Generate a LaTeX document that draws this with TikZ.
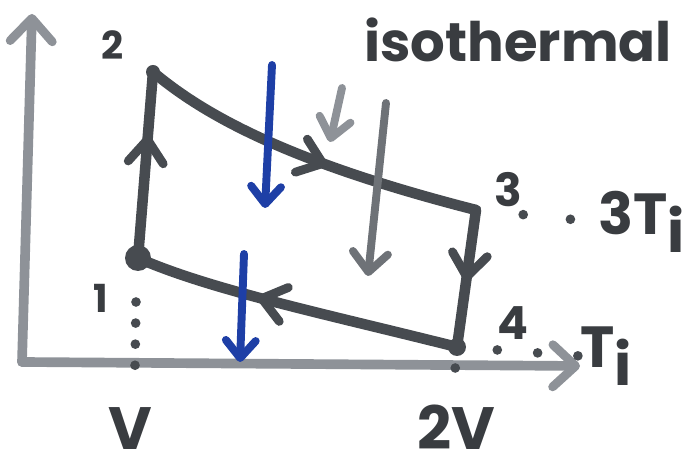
\documentclass[tikz,border=0pt]{standalone}
\usepackage{fontspec}
\setmainfont{Poppins}
\usetikzlibrary{arrows.meta,decorations.markings}
\definecolor{marker}{HTML}{474B50}
\definecolor{markerlight}{HTML}{8E9298}
\definecolor{markermid}{HTML}{6E7277}
\definecolor{pen}{HTML}{1E3FA6}
\tikzset{
  stroke/.style={draw=marker,line width=6pt,line cap=round,line join=round},
  barb/.style={-{Straight Barb[length=13pt,width=24pt,line width=5pt,round]}},
  midarrow/.style={postaction={decorate},decoration={markings,
    mark=at position #1 with {\arrow{Straight Barb[length=13pt,width=20pt,line width=5pt,round]}}}},
  dots/.style={draw=marker,line width=5.5pt,line cap=round,dash pattern=on 0pt off #1},
  hand/.style={text=marker!80!black,inner sep=0pt,font=\bfseries\fontsize{#1}{#1}\selectfont},
  blueline/.style={draw=pen,line width=4.5pt,line cap=round,
    -{Straight Barb[length=10pt,width=17pt,line width=4.5pt,round]}},
}
\begin{document}
\begin{tikzpicture}[x=0.02cm,y=-0.02cm]
  \useasboundingbox (0,0) rectangle (698,475);
  % corners of the cycle
  \coordinate (p1) at (138,258);
  \coordinate (p2) at (153,72);
  \coordinate (p3) at (476,210);
  \coordinate (p4) at (457,347);
  \coordinate (origin) at (22,362);
  \coordinate (ytip) at (32,14);
  \coordinate (xtip) at (580,366);
  \coordinate (d1) at (136,302);
  \coordinate (v1) at (135,366);
  \coordinate (v2) at (455,371);
  % axes
  \draw[stroke,draw=markerlight,line width=5.5pt,barb] (origin) -- (ytip);
  \draw[stroke,draw=markerlight,line width=5.5pt,barb] (origin) -- (xtip);
  % cycle
  \draw[stroke,midarrow=0.66] (p1) -- (p2);
  \draw[stroke,midarrow=0.56] (p2) .. controls (210,120) and (300,165) .. (p3);
  \draw[stroke,midarrow=0.52] (p3) -- (p4);
  \draw[stroke,midarrow=0.62] (p4) .. controls (330,315) and (210,290) .. (p1);
  \fill[marker] (p1) circle[radius=13];
  \fill[marker] (p4) circle[radius=9];
  \fill[marker] (p2) circle[radius=7];
  % labels
  \node[hand=22] (n2) at (113,45) {2};
  \node[hand=22] (n1) at (101,298) {1};
  \node[hand=26] (n3) at (508,190) {3};
  \node[hand=26] (n4) at (513,323) {4};
  \node[hand=33,anchor=west] (hot) at (598,222) {3T\raisebox{-0.3em}{i}};
  \node[hand=33,anchor=west] (cold) at (580,356) {T\raisebox{-0.3em}{i}};
  \node[hand=34,anchor=base] (vol1) at (130,450) {V};
  \node[hand=34,anchor=base] (vol2) at (456,450) {2V};
  \node[hand=31] (iso) at (518,40) {isothermal};
  % dotted guides
  \draw[dots=12pt] (d1) -- (v1);
  \draw[dots=12pt] (p4) -- (v2);
  \draw[dots=23pt] (p4) -- (cold.west);
  \draw[dots=27pt] (p3) -- (hot.west);
  % heat arrows
  \coordinate (g1) at (386,103);
  \coordinate (g2) at (368,276);
  \coordinate (g3) at (342,88);
  \coordinate (g4) at (330,142);
  \draw[stroke,draw=markermid,line width=4.5pt,
    -{Straight Barb[length=11pt,width=20pt,line width=4.5pt,round]}] (g1) -- (g2);
  \draw[stroke,draw=markerlight,line width=4.5pt,
    -{Straight Barb[length=11pt,width=18pt,line width=4.5pt,round]}] (g3) -- (g4);
  \coordinate (b1) at (272,65);
  \coordinate (b2) at (265,208);
  \coordinate (b3) at (244,254);
  \coordinate (b4) at (240,362);
  \draw[blueline] (b1) -- (b2);
  \draw[blueline] (b3) -- (b4);
\end{tikzpicture}
\end{document}
